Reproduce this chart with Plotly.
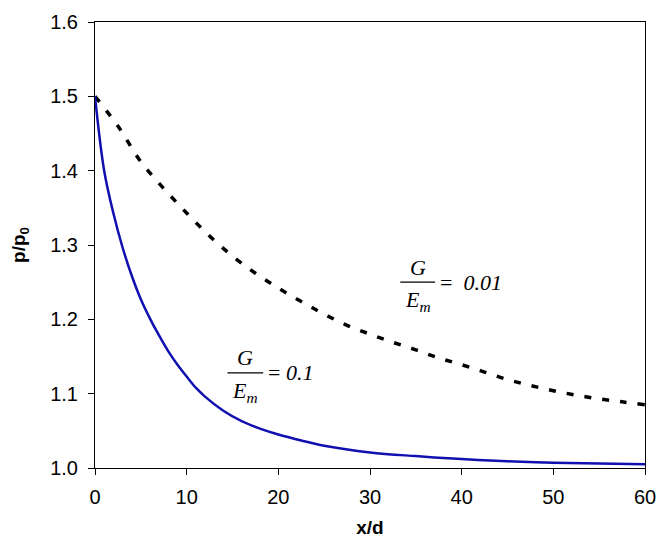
import plotly.graph_objects as go

# Blue solid curve, G/Em = 0.1
x_blue = [0, 1, 2, 3, 4, 5, 6, 7, 8, 9, 10, 11, 12, 14, 16, 18, 20, 22.5, 25, 30, 35, 40, 45, 50, 55, 60]
y_blue = [1.500, 1.400, 1.343, 1.297, 1.259, 1.227, 1.201, 1.178, 1.157, 1.139, 1.123, 1.108, 1.096,
          1.077, 1.063, 1.053, 1.045, 1.037, 1.030, 1.021, 1.016, 1.012, 1.009, 1.007, 1.006, 1.005]

# Black dashed curve, G/Em = 0.01
x_black = [0, 2.5, 5, 7.5, 10, 12.5, 15, 17.5, 20, 22.5, 25, 27.5, 30, 32.5, 35, 37.5, 40,
           42.5, 45, 47.5, 50, 52.5, 55, 57.5, 60]
y_black = [1.500, 1.460, 1.412, 1.376, 1.343, 1.312, 1.285, 1.262, 1.242, 1.224, 1.207, 1.192, 1.180,
           1.169, 1.159, 1.148, 1.139, 1.129, 1.119, 1.111, 1.104, 1.098, 1.093, 1.089, 1.085]

x_ticks = [0, 10, 20, 30, 40, 50, 60]
y_ticks = [1.0, 1.1, 1.2, 1.3, 1.4, 1.5, 1.6]

fig = go.Figure()
fig.add_trace(go.Scatter(x=x_black, y=y_black, mode="lines",
                         line=dict(color="black", width=3.5, dash="7px,11px", shape="spline"),
                         showlegend=False))
fig.add_trace(go.Scatter(x=x_blue, y=y_blue, mode="lines",
                         line=dict(color="#1010b0", width=2.5, shape="spline"),
                         showlegend=False))

serif = "Liberation Serif, Times New Roman, serif"
fs = 22

def frac_label(xc, yline, value, half_w, gap):
    fig.add_annotation(x=xc, y=yline, yshift=15, text="<i>G</i>", showarrow=False,
                       font=dict(family=serif, size=fs, color="black"), xanchor="center", yanchor="middle")
    fig.add_annotation(x=xc, y=yline, yshift=-19, text="<i>E<sub>m</sub></i>", showarrow=False,
                       font=dict(family=serif, size=fs, color="black"), xanchor="center", yanchor="middle")
    fig.add_shape(type="line", x0=xc - half_w, x1=xc + half_w, y0=yline, y1=yline,
                  line=dict(color="black", width=1.2))
    fig.add_annotation(x=xc + half_w, y=yline, xshift=3, text="=" + gap + "<i>" + value + "</i>",
                       showarrow=False, font=dict(family=serif, size=fs, color="black"),
                       xanchor="left", yanchor="middle")

frac_label(35.2, 1.250, "0.01", 1.9, "&nbsp;&nbsp;")
frac_label(16.4, 1.128, "0.1", 1.95, " ")

tick_font = dict(family="Liberation Sans, Arial, sans-serif", size=20, color="black")
title_font = dict(family="Liberation Sans, Arial, sans-serif", size=19, color="black")
fig.update_xaxes(range=[0, 60], tickvals=x_ticks, ticks="outside", ticklen=6, tickwidth=1,
                 tickcolor="black", showline=True, linecolor="black", linewidth=1, mirror=True,
                 showgrid=False, zeroline=False, tickfont=tick_font, ticklabelstandoff=5,
                 automargin=False,
                 title=dict(text="<b>x/d</b>", font=title_font, standoff=13))
fig.update_yaxes(range=[1.0, 1.6], tickvals=y_ticks, tickformat=".1f", ticks="outside", ticklen=6,
                 tickwidth=1, tickcolor="black", showline=True, linecolor="black", linewidth=1,
                 mirror=True, showgrid=False, zeroline=False, tickfont=tick_font, ticklabelstandoff=6,
                 automargin=False,
                 title=dict(text="<b>p/p<sub>0</sub></b>", font=title_font, standoff=19))
fig.update_layout(width=658, height=537, margin=dict(l=87, r=21, t=14, b=77, autoexpand=False),
                  paper_bgcolor="white", plot_bgcolor="white")
fig.write_html("out.html")
